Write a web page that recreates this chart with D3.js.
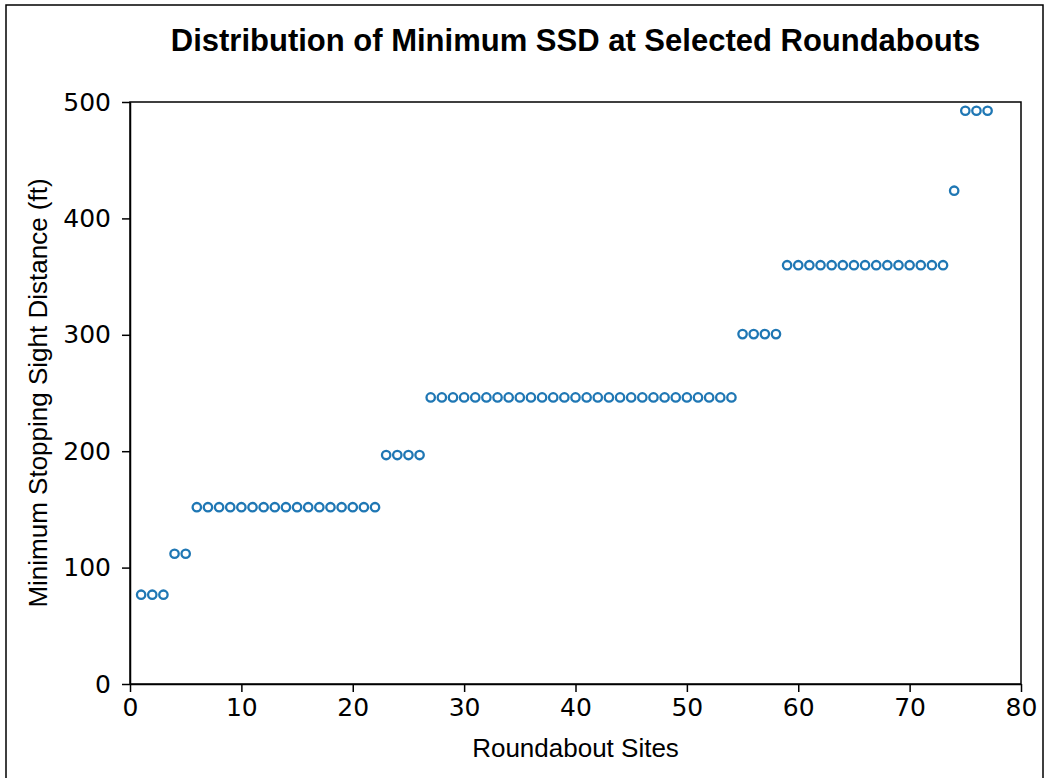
<!DOCTYPE html>
<html>
<head>
<meta charset="utf-8">
<script src="https://cdn.jsdelivr.net/npm/d3@7"></script>
<style>
  body { margin: 0; background: #fff; }
  .tick text { font-family: "DejaVu Sans", sans-serif; font-size: 25px; fill: #000; }
  .tick line, .domain { stroke: #000; stroke-width: 1.5px; }
</style>
</head>
<body>
<script>
// Roundabout site numbers
var sites = [1, 2, 3, 4, 5, 6, 7, 8, 9, 10, 11, 12, 13, 14, 15, 16, 17, 18, 19, 20,
             21, 22, 23, 24, 25, 26, 27, 28, 29, 30, 31, 32, 33, 34, 35, 36, 37, 38, 39, 40,
             41, 42, 43, 44, 45, 46, 47, 48, 49, 50, 51, 52, 53, 54, 55, 56, 57, 58, 59, 60,
             61, 62, 63, 64, 65, 66, 67, 68, 69, 70, 71, 72, 73, 74, 75, 76, 77];

// Minimum stopping sight distance (ft) per site
var ssd = [76.7, 76.7, 76.7, 111.9, 111.9,
           151.9, 151.9, 151.9, 151.9, 151.9, 151.9, 151.9, 151.9, 151.9, 151.9, 151.9, 151.9, 151.9, 151.9, 151.9, 151.9, 151.9,
           196.7, 196.7, 196.7, 196.7,
           246.2, 246.2, 246.2, 246.2, 246.2, 246.2, 246.2, 246.2, 246.2, 246.2, 246.2, 246.2, 246.2, 246.2,
           246.2, 246.2, 246.2, 246.2, 246.2, 246.2, 246.2, 246.2, 246.2, 246.2, 246.2, 246.2, 246.2, 246.2,
           300.6, 300.6, 300.6, 300.6,
           359.8, 359.8, 359.8, 359.8, 359.8, 359.8, 359.8, 359.8, 359.8, 359.8, 359.8, 359.8, 359.8, 359.8, 359.8,
           423.8,
           492.5, 492.5, 492.5];

var xTicks = [0, 10, 20, 30, 40, 50, 60, 70, 80];
var yTicks = [0, 100, 200, 300, 400, 500];

// Set graph dimensions and margins
var margin = {top: 102, right: 24, bottom: 94, left: 130},
    width = 1045 - margin.left - margin.right,
    height = 778 - margin.top - margin.bottom;

var x = d3.scaleLinear().domain([0, 80]).range([0, width]);
var y = d3.scaleLinear().domain([0, 500]).range([height, 0]);

var root = d3.select("body").append("svg")
    .attr("width", 1045)
    .attr("height", 778);

// outer frame of the figure
root.append("path")
    .attr("d", "M6,778 V5 H1043 V778")
    .attr("fill", "none")
    .attr("stroke", "#000")
    .attr("stroke-width", 1.5);

var svg = root.append("g")
    .attr("transform", "translate(" + margin.left + "," + margin.top + ")");

// X axis
svg.append("g")
    .attr("transform", "translate(0," + height + ")")
    .call(d3.axisBottom(x).tickValues(xTicks).tickSize(8).tickPadding(6).tickSizeOuter(0));

// Y axis
svg.append("g")
    .call(d3.axisLeft(y).tickValues(yTicks).tickSize(8).tickPadding(11).tickSizeOuter(0));

// box around the plot
svg.append("rect")
    .attr("width", width)
    .attr("height", height)
    .attr("fill", "none")
    .attr("stroke", "#000")
    .attr("stroke-width", 1.5);

// points
svg.selectAll("circle.pt")
    .data(sites)
    .enter().append("circle")
    .attr("class", "pt")
    .attr("cx", function(d) { return x(d); })
    .attr("cy", function(d, i) { return y(ssd[i]); })
    .attr("r", 4.2)
    .attr("fill", "none")
    .attr("stroke", "#1f77b4")
    .attr("stroke-width", 2.3);

// Title
svg.append("text")
    .attr("x", width / 2)
    .attr("y", -51)
    .attr("text-anchor", "middle")
    .style("font-family", "Liberation Sans, Arial, sans-serif")
    .style("font-weight", "bold")
    .style("font-size", "31px")
    .text("Distribution of Minimum SSD at Selected Roundabouts");

// Axis labels
svg.append("text")
    .attr("x", width / 2)
    .attr("y", height + 73)
    .attr("text-anchor", "middle")
    .style("font-family", "Liberation Sans, Arial, sans-serif")
    .style("font-size", "26px")
    .text("Roundabout Sites");

svg.append("text")
    .attr("transform", "translate(-83," + (height / 2) + ") rotate(-90)")
    .attr("text-anchor", "middle")
    .style("font-family", "Liberation Sans, Arial, sans-serif")
    .style("font-size", "26px")
    .text("Minimum Stopping Sight Distance (ft)");
</script>
</body>
</html>
